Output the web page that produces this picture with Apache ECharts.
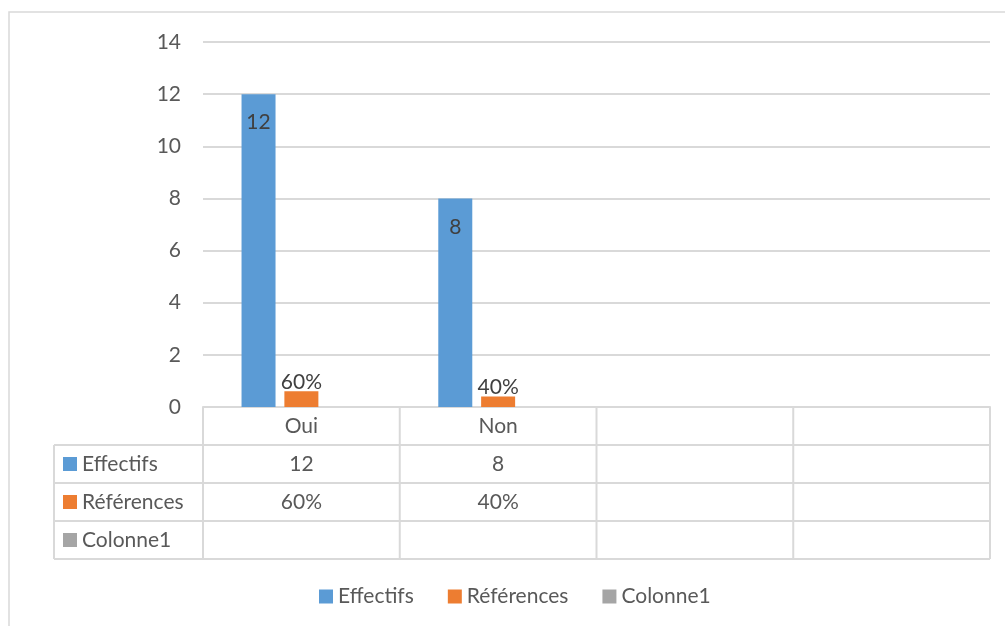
<!DOCTYPE html>
<html>
<head>
<meta charset="utf-8">
<script src="https://cdn.jsdelivr.net/npm/echarts@6/dist/echarts.min.js"></script>
<style>
  html, body { margin: 0; padding: 0; background: #fff; }
  #chart { width: 1005px; height: 626px; }
</style>
</head>
<body>
<div id="chart"></div>
<script>
// Categories and series values
const categories = ['Oui', 'Non', '', ''];
const effectifs = [12, 8, null, null];
const references = [0.6, 0.4, null, null];
const colonne1 = [null, null, null, null];
const seriesNames = ['Effectifs', 'Références', 'Colonne1'];
const yTicks = [0, 2, 4, 6, 8, 10, 12, 14];

const COLORS = ['#5b9bd5', '#ed7d31', '#a5a5a5'];
const TEXT = '#595959';
const LINE = '#d9d9d9';
const FONT = 'Lato, "Open Sans", sans-serif';
const FS = 21;
const ROW_H = 38;
const TABLE_LEFT = 54;

const pct = v => (v == null ? '' : Math.round(v * 100) + '%');
const num = v => (v == null ? '' : String(v));
const tableRows = [
  { name: seriesNames[0], values: effectifs.map(num), color: COLORS[0] },
  { name: seriesNames[1], values: references.map(pct), color: COLORS[1] },
  { name: seriesNames[2], values: colonne1.map(num), color: COLORS[2] }
];

const chart = echarts.init(document.getElementById('chart'), null, { renderer: 'canvas' });

const option = {
  animation: false,
  color: COLORS,
  textStyle: { fontFamily: FONT },
  grid: { left: 203, right: 15, top: 42, bottom: 219, containLabel: false },
  legend: {
    left: 319,
    top: 586,
    padding: 0,
    itemWidth: 14,
    itemHeight: 14,
    itemGap: 34,
    icon: 'rect',
    textStyle: { color: TEXT, fontSize: FS, fontFamily: FONT },
    data: seriesNames
  },
  xAxis: {
    type: 'category',
    data: categories,
    axisLine: { lineStyle: { color: LINE, width: 2 } },
    axisTick: { show: false },
    axisLabel: { color: TEXT, fontSize: FS, fontFamily: FONT, margin: 9 }
  },
  yAxis: {
    type: 'value',
    min: yTicks[0],
    max: yTicks[yTicks.length - 1],
    interval: 2,
    axisLine: { show: false },
    axisTick: { show: false },
    axisLabel: { color: TEXT, fontSize: FS, fontFamily: FONT, margin: 22 },
    splitLine: { lineStyle: { color: LINE, width: 2 } }
  },
  series: [
    {
      name: seriesNames[0], type: 'bar', data: effectifs,
      barWidth: 34, barGap: '26%',
      label: { show: true, position: 'insideTop', distance: 18, color: '#404040', fontSize: FS, fontFamily: FONT }
    },
    {
      name: seriesNames[1], type: 'bar', data: references,
      barWidth: 34, barGap: '26%',
      label: { show: true, position: 'top', distance: -1, color: '#404040', fontSize: FS, fontFamily: FONT,
               formatter: p => pct(p.value) }
    },
    {
      name: seriesNames[2], type: 'bar', data: colonne1,
      barWidth: 34, barGap: '26%'
    }
  ]
};

chart.setOption(option);

// Data table under the plot, laid out from the axis scales
function buildTable() {
  const c0 = chart.convertToPixel({ xAxisIndex: 0 }, 0);
  const c1 = chart.convertToPixel({ xAxisIndex: 0 }, 1);
  const band = c1 - c0;
  const yBase = chart.convertToPixel({ yAxisIndex: 0 }, 0);
  const plotLeft = c0 - band / 2;
  const plotRight = plotLeft + band * categories.length;
  const els = [];
  const ls = { stroke: LINE, lineWidth: 2 };

  // outer chart frame
  els.push({ type: 'rect', shape: { x: 9, y: 12, width: 1030, height: 640 },
             style: { fill: null, stroke: LINE, lineWidth: 1.5 }, silent: true });

  const nRows = tableRows.length;
  const bottom = yBase + ROW_H * (nRows + 1);
  // horizontal rules
  for (let r = 1; r <= nRows + 1; r++) {
    const y = yBase + ROW_H * r;
    els.push({ type: 'line', shape: { x1: TABLE_LEFT, y1: y, x2: plotRight, y2: y }, style: ls, silent: true });
  }
  // vertical rules
  els.push({ type: 'line', shape: { x1: TABLE_LEFT, y1: yBase + ROW_H, x2: TABLE_LEFT, y2: bottom }, style: ls, silent: true });
  for (let i = 0; i <= categories.length; i++) {
    const x = plotLeft + band * i;
    els.push({ type: 'line', shape: { x1: x, y1: yBase, x2: x, y2: bottom }, style: ls, silent: true });
  }
  // row headers and cell values
  tableRows.forEach((row, r) => {
    const cy = yBase + ROW_H * (r + 1) + ROW_H / 2;
    els.push({ type: 'rect', shape: { x: TABLE_LEFT + 9, y: cy - 7, width: 14, height: 14 },
               style: { fill: row.color }, silent: true });
    els.push({ type: 'text', x: TABLE_LEFT + 28, y: cy,
               style: { text: row.name, fill: TEXT, font: FS + 'px ' + FONT, textVerticalAlign: 'middle', verticalAlign: 'middle' },
               silent: true });
    row.values.forEach((v, i) => {
      if (!v) return;
      els.push({ type: 'text', x: plotLeft + band * i + band / 2, y: cy,
                 style: { text: v, fill: TEXT, font: FS + 'px ' + FONT, align: 'center', verticalAlign: 'middle',
                          textAlign: 'center', textVerticalAlign: 'middle' },
                 silent: true });
    });
  });
  chart.setOption({ graphic: { elements: els } });
}
buildTable();
</script>
</body>
</html>
